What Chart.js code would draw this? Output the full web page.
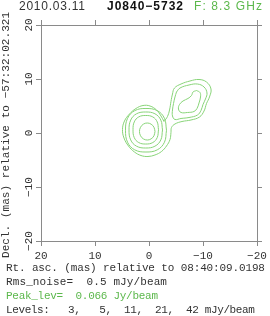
<!DOCTYPE html>
<html><head><meta charset="utf-8">
<script src="https://cdn.jsdelivr.net/npm/chart.js@4.4.1/dist/chart.umd.min.js"></script>
<style>html,body{margin:0;padding:0;background:#fff;}canvas{display:block;}</style>
</head><body>
<canvas id="c" width="270" height="316"></canvas>
<script>
// ---- texts ----
const titleDate = '2010.03.11';
const titleSource = 'J0840\u22125732';
const titleFreq = 'F: 8.3 GHz';
const xTitle = 'Rt. asc. (mas) relative to 08:40:09.0198';
const yTitle = 'Decl. (mas) relative to \u221257:32:02.321';
const infoRms = 'Rms_noise=  0.5 mJy/beam';
const infoPeak = 'Peak_lev=  0.066 Jy/beam';
const infoLevels = 'Levels:   3,   5,  11,  21,  42 mJy/beam';

// ---- axes ----
const tickValues = [20, 10, 0, -10, -20];
const tickLabels = ['20', '10', '0', '\u221210', '\u221220'];

// ---- contours (mas), levels 3, 5, 11, 21, 42 mJy/beam ----
const contourLevels = [3, 5, 11, 21, 42];
const level3 = [
  [-2.78,2.13],[-2.22,3.15],[-1.39,4.26],[-0.19,5.00],[1.11,5.09],[2.41,4.54],[3.61,3.52],[4.54,2.22],
  [4.91,0.65],[4.63,-0.93],[3.80,-2.41],[2.69,-3.52],[1.48,-4.17],[0.19,-4.35],[-1.11,-4.07],[-2.31,-3.43],
  [-3.24,-2.41],[-3.89,-1.20],[-4.07,0.09],[-4.17,1.02],[-4.81,1.67],[-6.11,2.13],[-7.78,2.41],[-9.35,2.96],
  [-10.19,4.07],[-10.65,5.46],[-11.20,6.67],[-11.48,8.15],[-10.65,9.44],[-9.26,9.91],[-7.59,9.63],[-5.93,9.07],
  [-4.72,8.33],[-4.35,7.22],[-4.07,5.83],[-3.80,4.26],[-3.43,3.06],[-2.78,2.13]
];
const coreLevel5 = [
  [-3.24,0.51],[-2.86,2.72],[-1.53,4.14],[0.56,4.54],[2.64,4.14],[3.97,2.72],[4.35,0.51],
  [3.97,-1.71],[2.64,-3.12],[0.56,-3.52],[-1.53,-3.12],[-2.86,-1.71],[-3.24,0.51]
];
const coreLevel11 = [
  [-2.50,0.56],[-2.19,2.39],[-1.10,3.56],[0.60,3.89],[2.31,3.56],[3.39,2.39],[3.70,0.56],
  [3.39,-1.28],[2.31,-2.44],[0.60,-2.78],[-1.10,-2.44],[-2.19,-1.28],[-2.50,0.56]
];
const coreLevel21 = [
  [-1.76,0.60],[-1.52,2.05],[-0.70,2.98],[0.60,3.24],[1.90,2.98],[2.73,2.05],[2.96,0.60],
  [2.73,-0.85],[1.90,-1.77],[0.60,-2.04],[-0.70,-1.77],[-1.52,-0.85],[-1.76,0.60]
];
const coreLevel42 = [
  [-1.11,0.28],[-0.92,1.06],[-0.39,1.64],[0.32,1.85],[1.04,1.64],[1.57,1.06],[1.76,0.28],
  [1.57,-0.51],[1.04,-1.09],[0.32,-1.30],[-0.39,-1.09],[-0.92,-0.51],[-1.11,0.28]
];
const jetLevel5 = [
  [-5.09,7.59],[-5.74,8.33],[-7.41,8.89],[-8.98,9.07],[-10.19,8.52],[-10.74,7.41],[-10.46,6.30],[-10.00,5.28],
  [-9.63,4.17],[-8.98,3.33],[-7.41,2.87],[-5.93,2.69],[-4.81,2.50],[-4.35,3.15],[-4.35,4.26],[-4.54,5.46],
  [-4.81,6.67],[-5.09,7.59]
];
const jetLevel11 = [
  [-8.80,7.87],[-9.44,7.50],[-9.54,6.67],[-9.26,5.56],[-8.89,4.54],[-8.33,3.98],[-7.13,3.80],[-5.93,3.80],
  [-5.46,4.44],[-5.65,5.28],[-6.30,5.93],[-7.22,6.39],[-7.87,6.94],[-8.15,7.59],[-8.80,7.87]
];

const contourColor = '#88d478';
const greenText = '#5cb84c';
const axisColor = '#8a8a8a';
const textColor = '#333333';
const monoFont = '"Liberation Mono", monospace';
const sansFont = '"Liberation Sans", Arial, sans-serif';

function toPts(arr) { return arr.map(p => ({ x: p[0], y: p[1] })); }
function ds(arr) {
  return { data: toPts(arr), showLine: true, borderColor: contourColor, borderWidth: 1,
           pointRadius: 0, tension: 0.4, fill: false };
}
function labelFor(v) { const i = tickValues.indexOf(v); return i >= 0 ? tickLabels[i] : ''; }

function fitText(ctx, text, x, y, width) {
  ctx.letterSpacing = '0px';
  const w = ctx.measureText(text).width;
  const n = [...text].length;
  const ls = n > 1 ? (width - w) / (n - 1) : 0;
  ctx.letterSpacing = ls.toFixed(2) + 'px';
  ctx.fillText(text, x, y);
  ctx.letterSpacing = '0px';
}

const textPlugin = {
  id: 'texts',
  afterDraw(chart) {
    const ctx = chart.ctx;
    const ys = chart.scales.y;
    ctx.save();
    ctx.textBaseline = 'middle';
    // Title
    ctx.textAlign = 'left';
    ctx.fillStyle = textColor;
    ctx.font = '12px ' + sansFont;
    fitText(ctx, titleDate, 19, 7, 66);
    ctx.fillStyle = '#111';
    ctx.font = 'bold 12px ' + sansFont;
    fitText(ctx, titleSource, 107, 7, 76);
    ctx.fillStyle = greenText;
    ctx.font = '12px ' + sansFont;
    fitText(ctx, titleFreq, 194, 7, 68);
    // y tick labels (rotated)
    ctx.fillStyle = textColor;
    ctx.font = '11px ' + monoFont;
    ctx.textAlign = 'center';
    tickValues.forEach((v, i) => {
      const py = ys.getPixelForValue(v);
      ctx.save(); ctx.translate(29, py); ctx.rotate(-Math.PI / 2);
      ctx.fillText(tickLabels[i], 0, 0); ctx.restore();
    });
    // y title
    ctx.save(); ctx.translate(6, 135); ctx.rotate(-Math.PI / 2);
    ctx.textAlign = 'left';
    fitText(ctx, yTitle, -123, 0, 246);
    ctx.restore();
    // bottom text lines
    ctx.textAlign = 'left';
    ctx.fillStyle = textColor;
    fitText(ctx, xTitle, 6, 268, 259);
    fitText(ctx, infoRms, 6, 282, 161);
    ctx.fillStyle = greenText;
    fitText(ctx, infoPeak, 6, 296, 152);
    ctx.fillStyle = textColor;
    fitText(ctx, infoLevels, 6, 310, 249);
    ctx.restore();
  }
};

function axis(position, showLabels, size) {
  const horiz = position === 'top' || position === 'bottom';
  return {
    type: 'linear', position, min: -20, max: 20, reverse: horiz,
    afterBuildTicks: s => { s.ticks = tickValues.map(v => ({ value: v })); },
    afterFit: s => { if (horiz) s.height = size; else s.width = size; },
    grid: { drawOnChartArea: false, drawTicks: true, tickLength: 5, color: axisColor, lineWidth: 1 },
    border: { display: true, color: axisColor, width: 1 },
    ticks: { display: showLabels, padding: 3, color: textColor, maxRotation: 0, minRotation: 0,
             font: { family: monoFont, size: 11 }, callback: v => labelFor(v) },
    title: { display: false }
  };
}

new Chart(document.getElementById('c'), {
  type: 'scatter',
  data: { datasets: [ds(level3), ds(coreLevel5), ds(coreLevel11), ds(coreLevel21), ds(coreLevel42), ds(jetLevel5), ds(jetLevel11)] },
  options: {
    responsive: false, animation: false, devicePixelRatio: 1,
    layout: { padding: 0 },
    plugins: { legend: { display: false }, tooltip: { enabled: false }, title: { display: false } },
    scales: {
      x: axis('bottom', true, 75),
      x2: axis('top', false, 25),
      y: axis('left', false, 41),
      y2: axis('right', false, 13)
    }
  },
  plugins: [textPlugin]
});
</script>
</body></html>
